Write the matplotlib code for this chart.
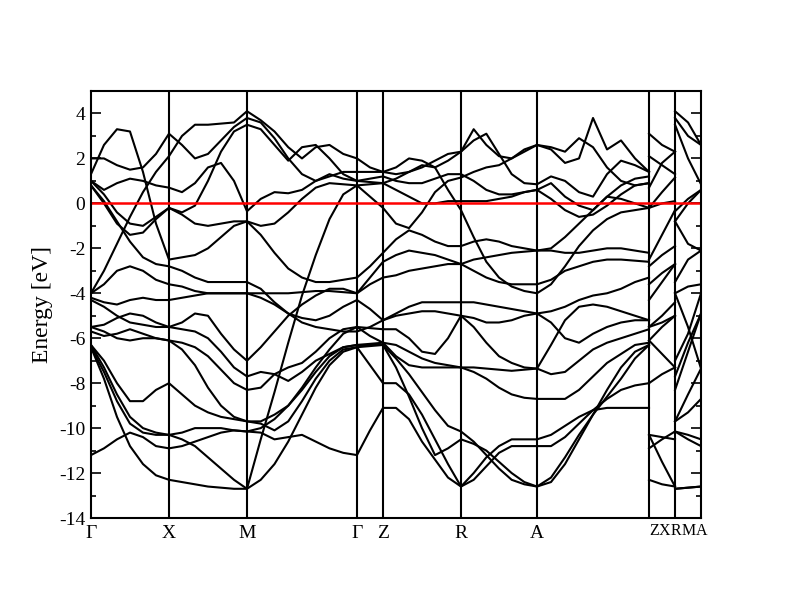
import numpy as np
import matplotlib
matplotlib.use("Agg")
import matplotlib.pyplot as plt
from matplotlib.ticker import MultipleLocator

plt.rcParams['font.family'] = ['Liberation Serif', 'DejaVu Serif']
plt.rcParams['axes.unicode_minus'] = False

# k-path: Γ-X-M-Γ-Z-R-A-Z | X-R | M-A  (path length, arbitrary units)
path_k = [0.0, 0.78, 1.56, 2.66, 2.92, 3.70, 4.46, 5.58]
path_steps = [6, 6, 8, 2, 6, 6, 8]
xr_k = [5.58, 5.84]
ma_k = [5.84, 6.10]

tick_labels = ['Γ', 'X', 'M', 'Γ', 'Z', 'R', 'A']
tick_k = [0.0, 0.78, 1.56, 2.66, 2.92, 3.70, 4.46]
end_labels = ['Z', 'X', 'R', 'M', 'A']
end_k = [5.629, 5.737, 5.849, 5.974, 6.103]
break_k = [5.84]

# band energies (eV) on the main path, segment by segment
band_01 = [2.0, 2.0, 1.7, 1.5, 1.6, 2.2, 3.1, 2.6, 2.0, 2.2, 2.8, 3.4, 3.8,
           3.6, 2.9, 2.0, 1.3, 1.0, 1.2, 1.4, 1.4, 1.4, 1.4,
           1.3, 1.4, 1.6, 1.9, 2.2, 2.3, 2.8, 3.1, 2.2, 1.3, 0.9, 0.85,
           1.2, 1.0, 0.5, 0.3, 1.3, 1.9, 1.7, 1.4]
band_02 = [-4.0, -3.0, -1.8, -0.6, 0.5, 1.4, 2.1, 3.0, 3.5, 3.5, 3.55, 3.6, 4.1,
           3.7, 3.2, 2.5, 2.0, 2.5, 2.6, 2.2, 2.0, 1.6, 1.4,
           1.6, 2.0, 1.9, 1.6, 1.9, 2.3, 3.3, 2.6, 2.1, 2.0, 2.3, 2.6,
           2.5, 2.3, 2.9, 2.5, 1.6, 1.0, 0.8, 0.9]
band_03 = [1.0, 0.6, 0.9, 1.1, 1.0, 0.8, 0.7, 0.5, 0.9, 1.6, 1.8, 1.0, -0.35,
           0.2, 0.5, 0.45, 0.6, 1.0, 1.3, 1.1, 1.0, 0.95, 0.9,
           1.1, 1.4, 1.7, 1.6, 0.6, -0.3, -1.5, -2.6, -3.3, -3.7, -3.9, -4.0,
           -3.6, -2.8, -1.9, -1.2, -0.7, -0.4, -0.3, -0.2]
band_04 = [1.0, 0.4, -0.4, -0.9, -1.0, -0.6, -0.2, -0.4, -0.1, 1.0, 2.3, 3.2, 3.5,
           3.3, 2.6, 1.9, 2.5, 2.6, 2.0, 1.3, 1.0, 1.1, 1.2,
           1.0, 0.9, 0.9, 1.1, 1.3, 1.3, 1.0, 0.6, 0.4, 0.4, 0.5, 0.6,
           0.9, 0.3, -0.1, -0.3, 0.3, 0.2, 0.0, -0.2]
band_05 = [0.8, 0.0, -0.9, -1.4, -1.3, -0.7, -0.2, -0.5, -0.9, -1.0, -0.9, -0.8, -0.8,
           -1.0, -0.9, -0.4, 0.2, 0.7, 0.9, 0.85, 0.8, 0.85, 0.9,
           0.6, 0.3, 0.0, 0.0, 0.1, 0.1, 0.1, 0.1, 0.2, 0.3, 0.5, 0.6,
           0.2, -0.3, -0.6, -0.5, -0.1, 0.4, 0.8, 0.9]
band_06 = [1.3, 2.6, 3.3, 3.2, 1.4, -0.9, -2.5, -2.4, -2.3, -2.0, -1.5, -1.0, -0.8,
           -1.4, -2.2, -2.9, -3.3, -3.5, -3.5, -3.4, -3.3, -2.8, -2.2,
           -1.6, -1.2, -1.4, -1.7, -1.9, -1.9, -1.7, -1.6, -1.7, -1.9, -2.0, -2.1,
           -2.0, -1.5, -0.9, -0.3, 0.3, 0.8, 1.1, 1.2]
band_07 = [0.8, 0.1, -0.8, -1.7, -2.4, -2.7, -2.8, -3.0, -3.3, -3.5, -3.5, -3.5, -3.5,
           -3.8, -4.4, -4.9, -5.1, -5.2, -5.0, -4.6, -4.3, -4.7, -5.2,
           -4.9, -4.6, -4.4, -4.4, -4.4, -4.4, -4.4, -4.5, -4.6, -4.7, -4.8, -4.9,
           -4.8, -4.6, -4.3, -4.1, -4.0, -3.8, -3.5, -3.3]
band_08 = [-4.0, -3.6, -3.0, -2.8, -3.0, -3.4, -3.6, -3.7, -3.9, -4.0, -4.0, -4.0, -4.0,
           -4.0, -4.0, -4.0, -3.95, -3.9, -3.9, -3.95, -4.0, -3.6, -3.3,
           -3.2, -3.0, -2.9, -2.8, -2.7, -2.7, -3.0, -3.3, -3.5, -3.6, -3.6, -3.6,
           -3.4, -3.0, -2.8, -2.6, -2.5, -2.5, -2.55, -2.6]
band_09 = [-4.2, -4.4, -4.5, -4.3, -4.2, -4.3, -4.3, -4.2, -4.1, -4.0, -4.0, -4.0, -4.0,
           -4.2, -4.5, -4.9, -5.3, -5.5, -5.6, -5.7, -5.7, -5.5, -5.2,
           -5.0, -4.9, -4.8, -4.8, -4.9, -5.0, -5.1, -5.3, -5.3, -5.2, -5.0, -4.9,
           -5.3, -6.0, -6.2, -5.8, -5.5, -5.3, -5.2, -5.2]
band_10 = [-4.3, -4.6, -5.0, -5.3, -5.4, -5.5, -5.5, -5.3, -4.9, -5.0, -5.8, -6.5, -7.0,
           -6.4, -5.7, -5.0, -4.5, -4.1, -3.8, -3.8, -4.0, -3.3, -2.6,
           -2.3, -2.1, -2.2, -2.3, -2.5, -2.7, -2.5, -2.4, -2.3, -2.2, -2.15, -2.1,
           -2.1, -2.2, -2.2, -2.1, -2.0, -2.0, -2.1, -2.2]
band_11 = [-5.5, -5.4, -5.1, -4.9, -5.0, -5.3, -5.5, -5.6, -5.7, -6.0, -6.6, -7.3, -7.7,
           -7.5, -7.6, -7.9, -7.5, -7.0, -6.7, -6.4, -6.3, -6.25, -6.2,
           -6.3, -6.6, -6.9, -7.1, -7.2, -7.3, -7.5, -7.8, -8.2, -8.5, -8.65, -8.7,
           -8.7, -8.7, -8.3, -7.7, -7.1, -6.7, -6.3, -6.2]
band_12 = [-5.5, -5.7, -6.0, -6.1, -6.0, -6.0, -6.1, -6.2, -6.4, -6.8, -7.4, -8.0, -8.3,
           -8.2, -7.6, -7.3, -7.1, -6.6, -6.0, -5.6, -5.5, -5.55, -5.6,
           -5.6, -6.0, -6.6, -6.7, -6.0, -5.0, -5.5, -6.2, -6.8, -7.1, -7.3, -7.35,
           -6.3, -5.2, -4.6, -4.5, -4.6, -4.8, -5.0, -5.2]
band_13 = [-5.7, -5.9, -5.8, -5.6, -5.8, -6.0, -6.1, -6.5, -7.2, -8.2, -9.0, -9.5, -9.7,
           -9.7, -9.4, -9.0, -8.3, -7.5, -6.8, -6.4, -6.3, -6.3, -6.3,
           -6.9, -7.6, -8.4, -9.2, -9.9, -10.15, -10.6, -11.2, -11.8, -12.3, -12.5, -12.6,
           -12.4, -11.6, -10.5, -9.4, -8.3, -7.3, -6.6, -6.3]
band_14 = [-6.3, -7.0, -8.0, -8.8, -8.8, -8.3, -8.0, -8.5, -9.0, -9.3, -9.5, -9.6, -9.7,
           -9.8, -10.1, -9.7, -8.8, -7.8, -7.0, -6.5, -6.4, -6.35, -6.3,
           -7.3, -8.6, -10.0, -11.2, -10.9, -10.5, -10.7, -11.0, -11.5, -12.0, -12.4, -12.6,
           -12.2, -11.3, -10.3, -9.4, -8.6, -7.8, -6.9, -6.3]
band_15 = [-6.3, -7.3, -8.5, -9.5, -10.0, -10.2, -10.3, -10.2, -10.0, -10.0, -10.0, -10.1, -10.15,
           -10.2, -10.5, -10.4, -10.3, -10.6, -10.9, -11.1, -11.2, -10.1, -9.1,
           -9.1, -9.6, -10.6, -11.4, -12.2, -12.6, -12.3, -11.7, -11.1, -10.8, -10.8, -10.8,
           -10.8, -10.4, -9.8, -9.2, -8.7, -8.3, -8.1, -8.0]
band_16 = [-6.4, -7.5, -8.8, -9.8, -10.2, -10.3, -10.3, -10.5, -10.8, -11.3, -11.8, -12.3, -12.7,
           -10.5, -8.4, -6.2, -4.1, -2.3, -0.7, 0.4, 0.8, 0.3, -0.2,
           -0.9, -1.1, -0.4, 0.5, 1.0, 1.15, 1.4, 1.6, 1.7, 2.0, 2.4, 2.6,
           2.4, 1.8, 2.0, 3.8, 2.4, 2.8, 2.0, 1.4]
band_17 = [-11.2, -10.9, -10.5, -10.2, -10.4, -10.8, -10.9, -10.8, -10.6, -10.4, -10.2, -10.1, -10.15,
           -10.0, -9.6, -9.0, -8.2, -7.3, -6.5, -5.8, -5.5, -5.9, -6.2,
           -6.8, -7.2, -7.3, -7.3, -7.3, -7.3, -7.3, -7.35, -7.4, -7.45, -7.4, -7.35,
           -7.6, -7.5, -7.0, -6.5, -6.2, -6.0, -5.8, -5.6]
band_18 = [-6.4, -7.8, -9.5, -10.8, -11.6, -12.1, -12.3, -12.4, -12.5, -12.6, -12.65, -12.7, -12.7,
           -12.3, -11.6, -10.6, -9.4, -8.2, -7.2, -6.6, -6.4, -7.2, -8.0,
           -8.0, -8.5, -9.4, -10.5, -11.6, -12.6, -12.0, -11.3, -10.8, -10.5, -10.5, -10.5,
           -10.3, -9.9, -9.5, -9.2, -9.1, -9.1, -9.1, -9.1]

# short X-R piece (X, mid, R)
xr_bands = [[3.1, 2.6, 2.3], [2.1, 1.7, 1.3], [0.7, 1.8, 2.3], [-0.2, 0.5, 1.15],
            [-0.2, 0.0, 0.1], [-2.5, -1.4, -0.3], [-2.8, -2.3, -1.9], [-3.6, -3.1, -2.7],
            [-4.3, -3.5, -2.7], [-5.5, -5.0, -4.4], [-5.5, -5.3, -5.0], [-6.1, -5.5, -5.0],
            [-6.1, -6.7, -7.3], [-8.0, -7.6, -7.3], [-10.3, -10.4, -10.5], [-10.9, -10.5, -10.15],
            [-10.3, -11.5, -12.6], [-12.3, -12.5, -12.6]]
# short M-A piece (M, mid, A)
ma_bands = [[4.1, 3.6, 2.6], [3.8, 3.0, 2.6], [3.5, 2.0, 0.85], [-0.35, 0.2, 0.6],
            [-0.8, 0.0, 0.6], [-0.8, -1.8, -2.1], [-3.5, -2.5, -2.1], [-4.0, -3.7, -3.6],
            [-4.0, -5.5, -7.35], [-7.0, -5.8, -4.0], [-7.7, -6.2, -4.9], [-8.3, -6.6, -4.9],
            [-9.7, -8.5, -7.35], [-9.7, -9.3, -8.7], [-10.15, -10.3, -10.5], [-10.15, -10.5, -10.8],
            [-12.7, -12.65, -12.6], [-12.7, -12.65, -12.6]]

bands = [band_01, band_02, band_03, band_04, band_05, band_06, band_07, band_08, band_09,
         band_10, band_11, band_12, band_13, band_14, band_15, band_16, band_17, band_18]

# k grid along the main path
k_main = [path_k[0]]
for i, n in enumerate(path_steps):
    k_main.extend(np.linspace(path_k[i], path_k[i + 1], n + 1)[1:])
k_xr = np.linspace(xr_k[0], xr_k[1], 3)
k_ma = np.linspace(ma_k[0], ma_k[1], 3)

fig = plt.figure(figsize=(7.89, 6.10), dpi=100)
ax = fig.add_axes([0.1153, 0.1508, 0.7732, 0.7])

for b in bands:
    ax.plot(k_main, b, color='black', lw=1.5, solid_joinstyle='round')
for b in xr_bands:
    ax.plot(k_xr, b, color='black', lw=1.5, solid_joinstyle='round')
for b in ma_bands:
    ax.plot(k_ma, b, color='black', lw=1.5, solid_joinstyle='round')

for k in path_k[1:] + break_k:
    ax.axvline(k, color='black', lw=1.5)
ax.axhline(0, color='red', lw=1.8)

ax.set_xlim(0, 6.10)
ax.set_ylim(-14, 5)
ax.set_xticks(tick_k)
ax.set_xticklabels(tick_labels, fontsize=14)
ax.tick_params(axis='x', length=0, pad=5)
# closely packed labels at the end of the path
for lab, k in zip(end_labels, end_k):
    ax.text(k, -0.012, lab, transform=ax.get_xaxis_transform(),
            ha='center', va='top', fontsize=11.5, clip_on=False)

ax.yaxis.set_major_locator(MultipleLocator(2))
ax.yaxis.set_minor_locator(MultipleLocator(1))
ax.tick_params(axis='y', which='both', direction='in', left=True, right=True,
               labelsize=14, pad=4, width=1.2)
ax.tick_params(axis='y', which='major', length=7)
ax.tick_params(axis='y', which='minor', length=3.5)
ax.set_ylabel('Energy [eV]', fontsize=17, labelpad=4)

for s in ax.spines.values():
    s.set_linewidth(1.5)

fig.savefig('out.png', dpi=100)
